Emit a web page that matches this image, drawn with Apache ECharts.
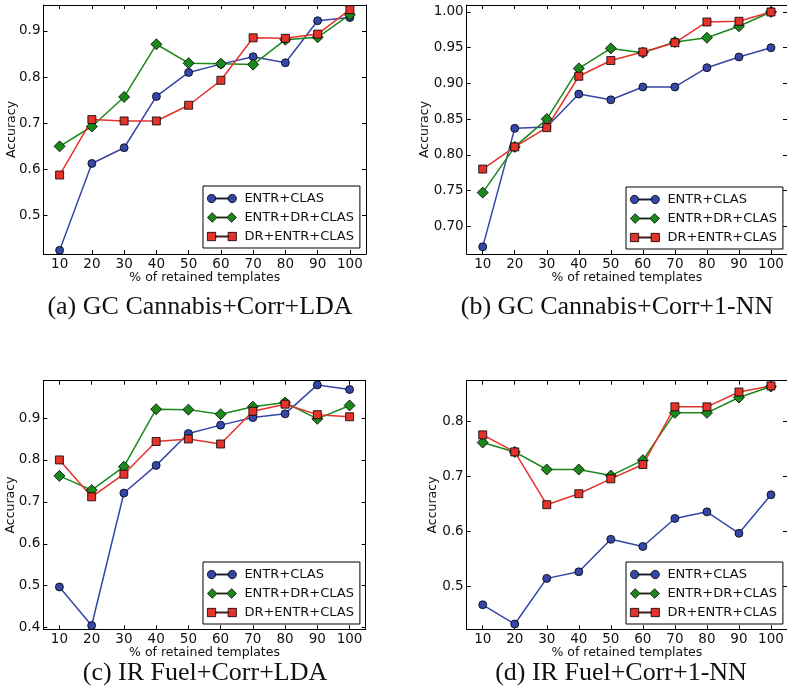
<!DOCTYPE html>
<html>
<head>
<meta charset="utf-8">
<script src="https://cdn.jsdelivr.net/npm/echarts@6/dist/echarts.min.js"></script>
<style>
  html, body { margin: 0; padding: 0; background: #fff; }
  #chart { width: 787px; height: 697px; }
</style>
</head>
<body>
<div id="chart"></div>
<script>
// x categories (% of retained templates)
var xLabels = ['10', '20', '30', '40', '50', '60', '70', '80', '90', '100'];
var seriesNames = ['ENTR+CLAS', 'ENTR+DR+CLAS', 'DR+ENTR+CLAS'];

// (a) GC Cannabis+Corr+LDA
var aEntrClas   = [0.425, 0.613, 0.647, 0.758, 0.810, 0.828, 0.844, 0.831, 0.922, 0.929];
var aEntrDrClas = [0.650, 0.693, 0.757, 0.871, 0.830, 0.829, 0.827, 0.881, 0.886, 0.935];
var aDrEntrClas = [0.588, 0.708, 0.705, 0.705, 0.739, 0.793, 0.885, 0.884, 0.893, 0.946];
var aTicks = [0.5, 0.6, 0.7, 0.8, 0.9];

// (b) GC Cannabis+Corr+1-NN
var bEntrClas   = [0.671, 0.837, 0.839, 0.885, 0.877, 0.895, 0.895, 0.922, 0.937, 0.950];
var bEntrDrClas = [0.747, 0.811, 0.850, 0.921, 0.949, 0.943, 0.958, 0.964, 0.980, 1.000];
var bDrEntrClas = [0.780, 0.811, 0.838, 0.910, 0.932, 0.944, 0.957, 0.986, 0.987, 1.000];
var bTicks = [0.70, 0.75, 0.80, 0.85, 0.90, 0.95, 1.00];

// (c) IR Fuel+Corr+LDA
var cEntrClas   = [0.497, 0.405, 0.721, 0.787, 0.863, 0.883, 0.901, 0.910, 0.979, 0.968];
var cEntrDrClas = [0.762, 0.728, 0.784, 0.921, 0.920, 0.909, 0.927, 0.937, 0.898, 0.930];
var cDrEntrClas = [0.800, 0.712, 0.766, 0.844, 0.850, 0.838, 0.916, 0.933, 0.908, 0.903];
var cTicks = [0.4, 0.5, 0.6, 0.7, 0.8, 0.9];

// (d) IR Fuel+Corr+1-NN
var dEntrClas   = [0.467, 0.432, 0.515, 0.527, 0.586, 0.573, 0.624, 0.636, 0.597, 0.667];
var dEntrDrClas = [0.762, 0.745, 0.713, 0.713, 0.702, 0.730, 0.816, 0.816, 0.844, 0.864];
var dDrEntrClas = [0.776, 0.745, 0.649, 0.669, 0.696, 0.722, 0.827, 0.827, 0.854, 0.865];
var dTicks = [0.5, 0.6, 0.7, 0.8];

var chart = echarts.init(document.getElementById('chart'));

var colors = ['#3546a6', '#1a881a', '#e5322b'];
var symbols = ['circle', 'diamond', 'rect'];
var symbolSizes = [8, 11, 8];
var legendIcons = [
  'path://M1,5A4,4,0,1,1,9,5A4,4,0,1,1,1,5ZM21,5A4,4,0,1,1,29,5A4,4,0,1,1,21,5ZM9,4.5L21,4.5L21,5.5L9,5.5Z',
  'path://M0,5L5,0L10,5L5,10ZM20,5L25,0L30,5L25,10ZM10,4.5L20,4.5L20,5.5L10,5.5Z',
  'path://M1,1L9,1L9,9L1,9ZM21,1L29,1L29,9L21,9ZM9,4.5L21,4.5L21,5.5L9,5.5Z'
];

// panel layout
var panels = [
  { data: [aEntrClas, aEntrDrClas, aDrEntrClas], ticks: aTicks, digits: 1, min: 0.417, max: 0.956,
    grid: { left: 43.5, top: 5, width: 322.5, height: 249 }, yGap: 25, legend: { left: 203, top: 186 },
    caption: '(a) GC Cannabis+Corr+LDA', cx: 200, cy: 307 },
  { data: [bEntrClas, bEntrDrClas, bDrEntrClas], ticks: bTicks, digits: 2, min: 0.661, max: 1.0098,
    grid: { left: 466.7, top: 5, width: 321, height: 249 }, yGap: 35, legend: { left: 626, top: 187 },
    caption: '(b) GC Cannabis+Corr+1-NN', cx: 617, cy: 307 },
  { data: [cEntrClas, cEntrDrClas, cDrEntrClas], ticks: cTicks, digits: 1, min: 0.396, max: 0.989,
    grid: { left: 43.3, top: 380.7, width: 322.4, height: 248.6 }, yGap: 26, legend: { left: 203, top: 562 },
    caption: '(c) IR Fuel+Corr+LDA', cx: 205, cy: 673 },
  { data: [dEntrClas, dEntrDrClas, dDrEntrClas], ticks: dTicks, digits: 1, min: 0.4224, max: 0.8745,
    grid: { left: 466.7, top: 380.7, width: 321, height: 248.6 }, yGap: 27, legend: { left: 626, top: 562 },
    caption: '(d) IR Fuel+Corr+1-NN', cx: 621, cy: 673 }
];

var axisFont = { fontFamily: 'DejaVu Sans', fontSize: 13.5, color: '#111' };
var frameLine = { show: true, lineStyle: { color: '#000', width: 1 } };
var tickIn = { show: true, inside: true, length: 4, lineStyle: { color: '#000', width: 1 } };

var grids = [], xAxes = [], yAxes = [], series = [], legends = [], graphics = [];

panels.forEach(function (p, i) {
  grids.push(p.grid);
  // bottom x axis
  xAxes.push({
    type: 'category', gridIndex: i, data: xLabels, boundaryGap: true, position: 'bottom',
    name: '% of retained templates', nameLocation: 'middle', nameGap: 17, nameMoveOverlap: false,
    nameTextStyle: { fontFamily: 'DejaVu Sans', fontSize: 12.5, color: '#111' },
    axisLine: frameLine, axisTick: Object.assign({ alignWithLabel: true }, tickIn),
    axisLabel: Object.assign({ margin: 3, interval: 0 }, axisFont),
    splitLine: { show: false }
  });
  // top x axis (frame)
  xAxes.push({
    type: 'category', gridIndex: i, data: xLabels, boundaryGap: true, position: 'top',
    axisLine: frameLine, axisTick: Object.assign({ alignWithLabel: true, interval: 0 }, tickIn),
    axisLabel: { show: false }, splitLine: { show: false }
  });
  // left y axis
  yAxes.push({
    type: 'value', gridIndex: i, min: p.min, max: p.max, position: 'left',
    name: 'Accuracy', nameLocation: 'middle', nameGap: p.yGap, nameRotate: 90, nameMoveOverlap: false,
    nameTextStyle: { fontFamily: 'DejaVu Sans', fontSize: 12.5, color: '#111' },
    axisLine: frameLine,
    axisTick: Object.assign({ customValues: p.ticks }, tickIn),
    axisLabel: Object.assign({
      customValues: p.ticks, margin: 3,
      formatter: (function (d) { return function (v) { return v.toFixed(d); }; })(p.digits)
    }, axisFont),
    splitLine: { show: false }
  });
  // right y axis (frame)
  yAxes.push({
    type: 'value', gridIndex: i, min: p.min, max: p.max, position: 'right',
    axisLine: frameLine,
    axisTick: Object.assign({ customValues: p.ticks }, tickIn),
    axisLabel: { show: false }, splitLine: { show: false }
  });

  p.data.forEach(function (vals, k) {
    series.push({
      name: seriesNames[k], type: 'line', xAxisIndex: 2 * i, yAxisIndex: 2 * i,
      data: vals, symbol: symbols[k], symbolSize: symbolSizes[k], showAllSymbol: true,
      lineStyle: { color: colors[k], width: 1.5 },
      itemStyle: { color: colors[k], borderColor: '#000', borderWidth: 0.8 },
      emphasis: { disabled: true }, animation: false
    });
  });

  legends.push({
    left: p.legend.left, top: p.legend.top, orient: 'vertical',
    backgroundColor: '#fff', borderColor: '#000', borderWidth: 1, borderRadius: 0,
    padding: [5, 6, 4, 4], itemGap: 4, itemWidth: 29, itemHeight: 10,
    selectedMode: false,
    itemStyle: { borderColor: '#000', borderWidth: 0.8 },
    textStyle: { fontFamily: 'DejaVu Sans', fontSize: 13, color: '#111', lineHeight: 15, padding: [0, 0, 0, 3] },
    data: seriesNames.map(function (n, k) { return { name: n, icon: legendIcons[k] }; })
  });

  graphics.push({
    type: 'text', x: p.cx, y: p.cy,
    style: { text: p.caption, font: '26px "Liberation Serif"', fill: '#111', textAlign: 'center', textVerticalAlign: 'middle' }
  });
});

var option = {
  animation: false,
  backgroundColor: '#fff',
  grid: grids,
  xAxis: xAxes,
  yAxis: yAxes,
  legend: legends,
  series: series,
  graphic: graphics
};

chart.setOption(option);
</script>
</body>
</html>
